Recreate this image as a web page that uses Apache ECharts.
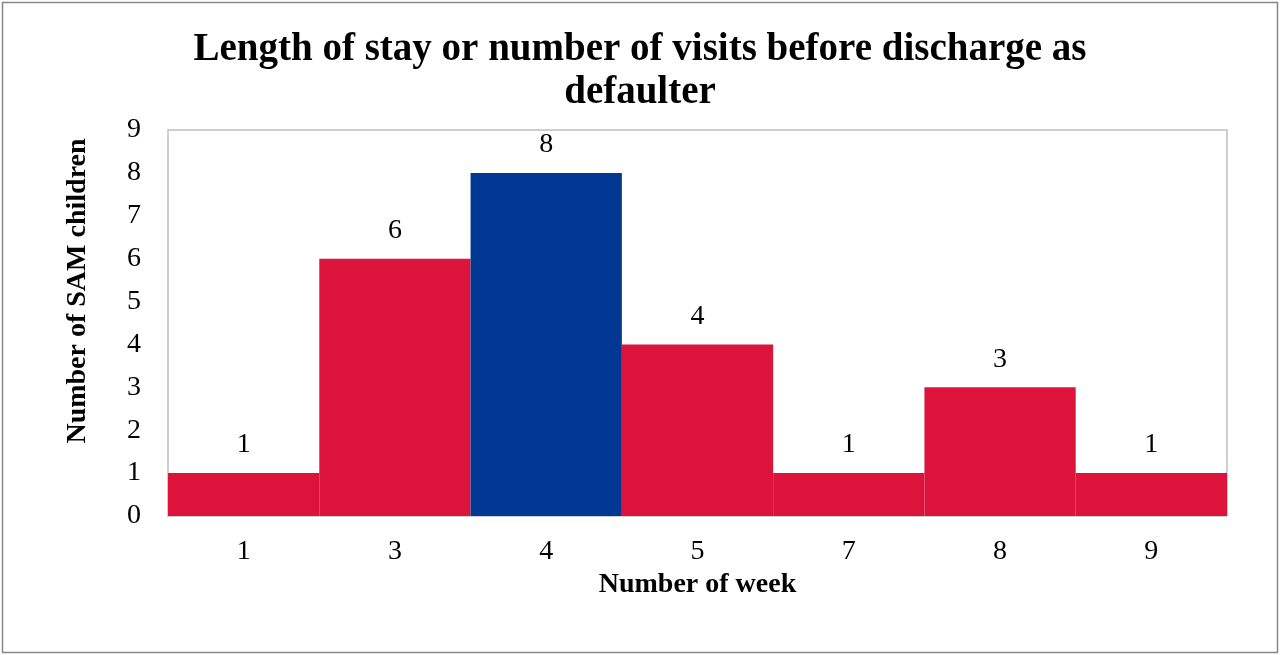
<!DOCTYPE html>
<html>
<head>
<meta charset="utf-8">
<script src="https://cdn.jsdelivr.net/npm/echarts@6/dist/echarts.min.js"></script>
<style>
  html, body { margin: 0; padding: 0; background: #fff; }
  #chart { width: 1280px; height: 655px; }
</style>
</head>
<body>
<div id="chart"></div>
<script>
// weeks before discharge as defaulter
var weeks = ['1', '3', '4', '5', '7', '8', '9'];
var children = [1, 6, 8, 4, 1, 3, 1];
var highlightWeek = '4';

var red = '#DC143C', blue = '#003893';
var serif = '"Liberation Serif", "Times New Roman", serif';

var chart = echarts.init(document.getElementById('chart'));

var barData = children.map(function (v, i) {
  return { value: v, itemStyle: { color: weeks[i] === highlightWeek ? blue : red } };
});

var option = {
  backgroundColor: '#fff',
  animation: false,
  title: {
    text: 'Length of stay or number of visits before discharge as\ndefaulter',
    left: 'center',
    top: 23,
    padding: [5, 15, 5, 5],
    textStyle: { fontFamily: serif, fontSize: 39, fontWeight: 'bold', color: '#000', lineHeight: 43 }
  },
  graphic: [{
    type: 'rect',
    shape: { x: 2.5, y: 2.5, width: 1275, height: 650 },
    style: { fill: 'none', stroke: '#888', lineWidth: 1.5 },
    silent: true
  }],
  grid: { left: 168, right: 53, top: 130, bottom: 139, show: true, borderColor: '#c0c0c0', borderWidth: 1.5 },
  xAxis: {
    type: 'category',
    data: weeks,
    name: 'Number of week',
    nameLocation: 'middle',
    nameGap: 52,
    nameTextStyle: { fontFamily: serif, fontSize: 28, fontWeight: 'bold', color: '#000' },
    axisLine: { show: false },
    axisTick: { show: false },
    axisLabel: { fontFamily: serif, fontSize: 28, color: '#000', margin: 22 }
  },
  yAxis: {
    type: 'value',
    min: 0, max: 9, interval: 1,
    name: 'Number of SAM children',
    nameLocation: 'middle',
    nameGap: 76,
    nameTextStyle: { fontFamily: serif, fontSize: 28, fontWeight: 'bold', color: '#000', padding: [0, 0, 0, 64] },
    splitLine: { show: false },
    axisLine: { show: false },
    axisTick: { show: false },
    axisLabel: { fontFamily: serif, fontSize: 28, color: '#000', margin: 27 }
  },
  series: [{
    type: 'bar',
    data: barData,
    barCategoryGap: 0,
    label: {
      show: true,
      position: 'top',
      distance: 14,
      fontFamily: serif, fontSize: 28, color: '#000'
    }
  }]
};

chart.setOption(option);
</script>
</body>
</html>
